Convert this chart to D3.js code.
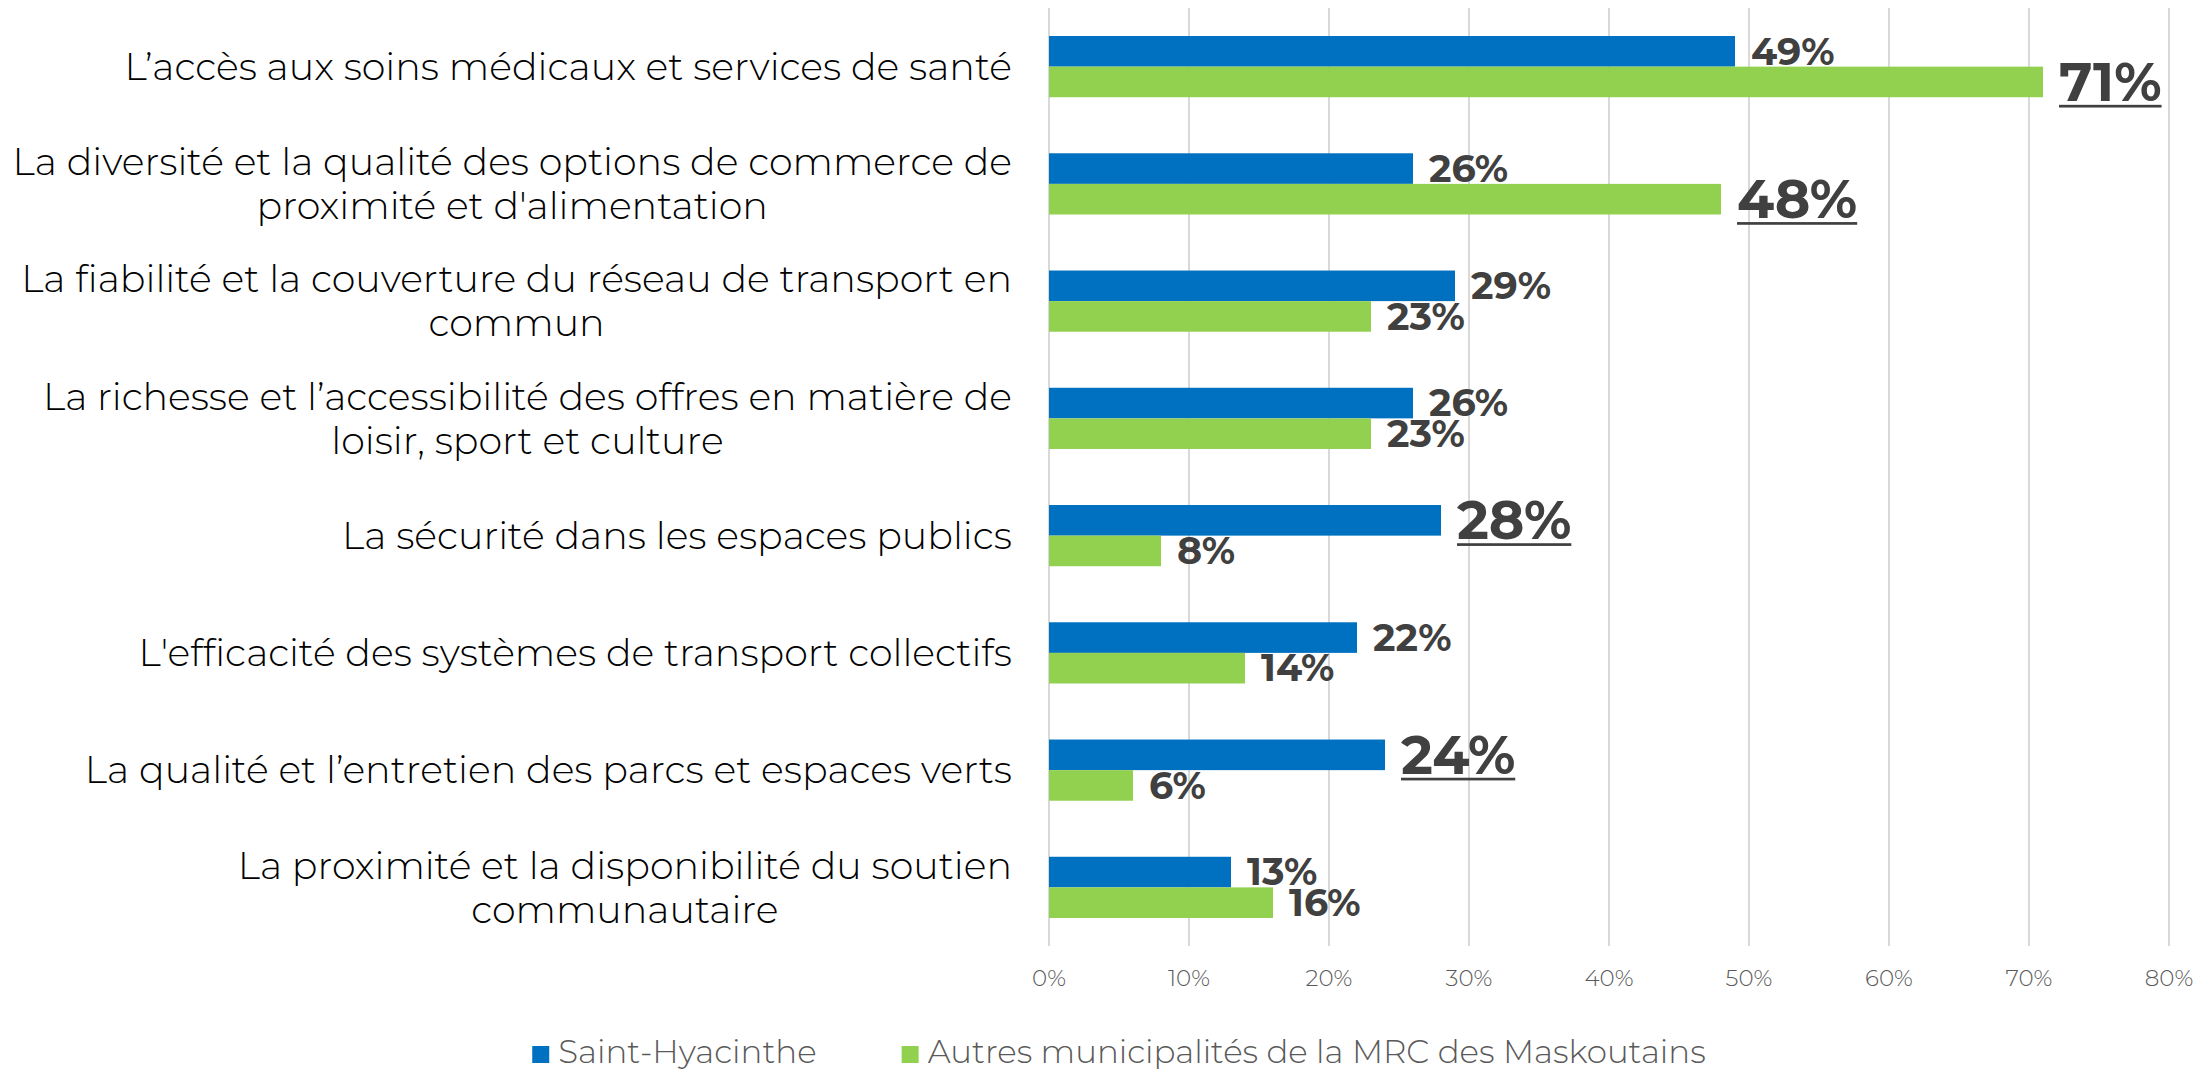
<!DOCTYPE html>
<html>
<head>
<meta charset="utf-8">
<script src="https://d3js.org/d3.v7.min.js"></script>
<style>
  body { margin: 0; background: #fff; }
  text { font-family: "Montserrat", "DejaVu Sans", sans-serif; }
</style>
</head>
<body>
<div id="chart"></div>
<script>
// categories, one array of lines per label (wrapped as in the original)
var categories = [
  ["L’accès aux soins médicaux et services de santé"],
  ["La diversité et la qualité des options de commerce de", "proximité et d'alimentation"],
  ["La fiabilité et la couverture du réseau de transport en", "commun"],
  ["La richesse et l’accessibilité des offres en matière de", "loisir, sport et culture"],
  ["La sécurité dans les espaces publics"],
  ["L'efficacité des systèmes de transport collectifs"],
  ["La qualité et l’entretien des parcs et espaces verts"],
  ["La proximité et la disponibilité du soutien", "communautaire"]
];
var seriesNames = ["Saint-Hyacinthe", "Autres municipalités de la MRC des Maskoutains"];
var saintHyacinthe = [0.49, 0.26, 0.29, 0.26, 0.28, 0.22, 0.24, 0.13];
var autres = [0.71, 0.48, 0.23, 0.23, 0.08, 0.14, 0.06, 0.16];
// values shown big and underlined
var bigSaintHyacinthe = [false, false, false, false, true, false, true, false];
var bigAutres = [true, true, false, false, false, false, false, false];
var xTicks = [0, 0.1, 0.2, 0.3, 0.4, 0.5, 0.6, 0.7, 0.8];

var colors = ["#0070C0", "#92D050"];
var W = 2210, H = 1072;

var svg = d3.select("#chart").append("svg")
    .attr("width", W).attr("height", H);

var x = d3.scaleLinear().domain([0, 0.8]).range([1049, 2169]);
var y = d3.scaleBand().domain(d3.range(categories.length))
    .range([8, 946]).paddingInner(0.478).paddingOuter(0.239);
var ySub = d3.scaleBand().domain([0, 1]).range([0, y.bandwidth()]);

// gridlines
svg.append("g").selectAll("line")
    .data(xTicks).enter().append("line")
    .attr("x1", function (d) { return x(d); })
    .attr("x2", function (d) { return x(d); })
    .attr("y1", 8).attr("y2", 946)
    .style("stroke", "#d9d9d9").style("stroke-width", 2);

// tick labels
svg.append("g").selectAll("text")
    .data(xTicks).enter().append("text")
    .attr("x", function (d) { return x(d); })
    .attr("y", 986)
    .attr("text-anchor", "middle")
    .style("font-size", "23px")
    .style("font-weight", 300)
    .style("fill", "#595959")
    .text(d3.format(".0%"));

// bars and labels
var rows = categories.map(function (c, i) {
    return [
        { i: i, s: 0, v: saintHyacinthe[i], big: bigSaintHyacinthe[i] },
        { i: i, s: 1, v: autres[i], big: bigAutres[i] }
    ];
});
var flat = [].concat.apply([], rows);

svg.append("g").selectAll("rect")
    .data(flat).enter().append("rect")
    .attr("x", x(0))
    .attr("y", function (d) { return y(d.i) + ySub(d.s); })
    .attr("width", function (d) { return x(d.v) - x(0); })
    .attr("height", ySub.bandwidth())
    .style("fill", function (d) { return colors[d.s]; });

var labels = svg.append("g").selectAll("g.lab")
    .data(flat).enter().append("g").attr("class", "lab");

labels.append("text")
    .attr("x", function (d) { return x(d.v) + 16; })
    .attr("y", function (d) {
        var fs = d.big ? 54 : 38;
        return y(d.i) + ySub(d.s) + ySub.bandwidth() / 2 + fs * 0.35;
    })
    .style("font-size", function (d) { return d.big ? "54px" : "38px"; })
    .style("font-weight", "bold")
    .style("fill", "#404040")
    .text(function (d) { return Math.round(d.v * 100) + "%"; });

labels.each(function (d) {
    if (!d.big) return;
    var t = d3.select(this).select("text");
    var len = t.node().getComputedTextLength();
    var base = +t.attr("y");
    d3.select(this).append("rect")
        .attr("x", +t.attr("x"))
        .attr("y", base + 4)
        .attr("width", len)
        .attr("height", 2.7)
        .style("fill", "#404040");
});

// category labels, lines centred on the widest line, right edge at 1012
var catG = svg.append("g");
categories.forEach(function (lines, i) {
    var t = catG.append("text")
        .style("font-size", "38px")
        .style("font-weight", 300)
        .style("fill", "#000");
    var lh = 44;
    var cy = y(i) + y.bandwidth() / 2;
    var top = cy - (lines.length - 1) * lh / 2 + 38 * 0.35;
    var spans = lines.map(function (l, k) {
        return t.append("tspan").attr("y", top + k * lh).text(l);
    });
    var maxW = d3.max(spans, function (s) { return s.node().getComputedTextLength(); });
    t.attr("text-anchor", "middle");
    spans.forEach(function (s) { s.attr("x", 1012 - maxW / 2); });
});

// legend
var leg = svg.append("g");
var lx = 0;
seriesNames.forEach(function (n, k) {
    var g = leg.append("g");
    g.append("rect").attr("x", 0).attr("y", -17).attr("width", 17).attr("height", 17)
        .style("fill", colors[k]);
    var t = g.append("text").attr("x", 26).attr("y", 0)
        .style("font-size", "32.5px").style("font-weight", 300)
        .style("fill", "#595959").text(n);
    var w = 26 + t.node().getComputedTextLength();
    g.attr("transform", "translate(" + lx + ",0)");
    lx += w + 85;
});
var totalW = lx - 85;
leg.attr("transform", "translate(" + (1119 - totalW / 2) + ",1063)");
</script>
</body>
</html>
